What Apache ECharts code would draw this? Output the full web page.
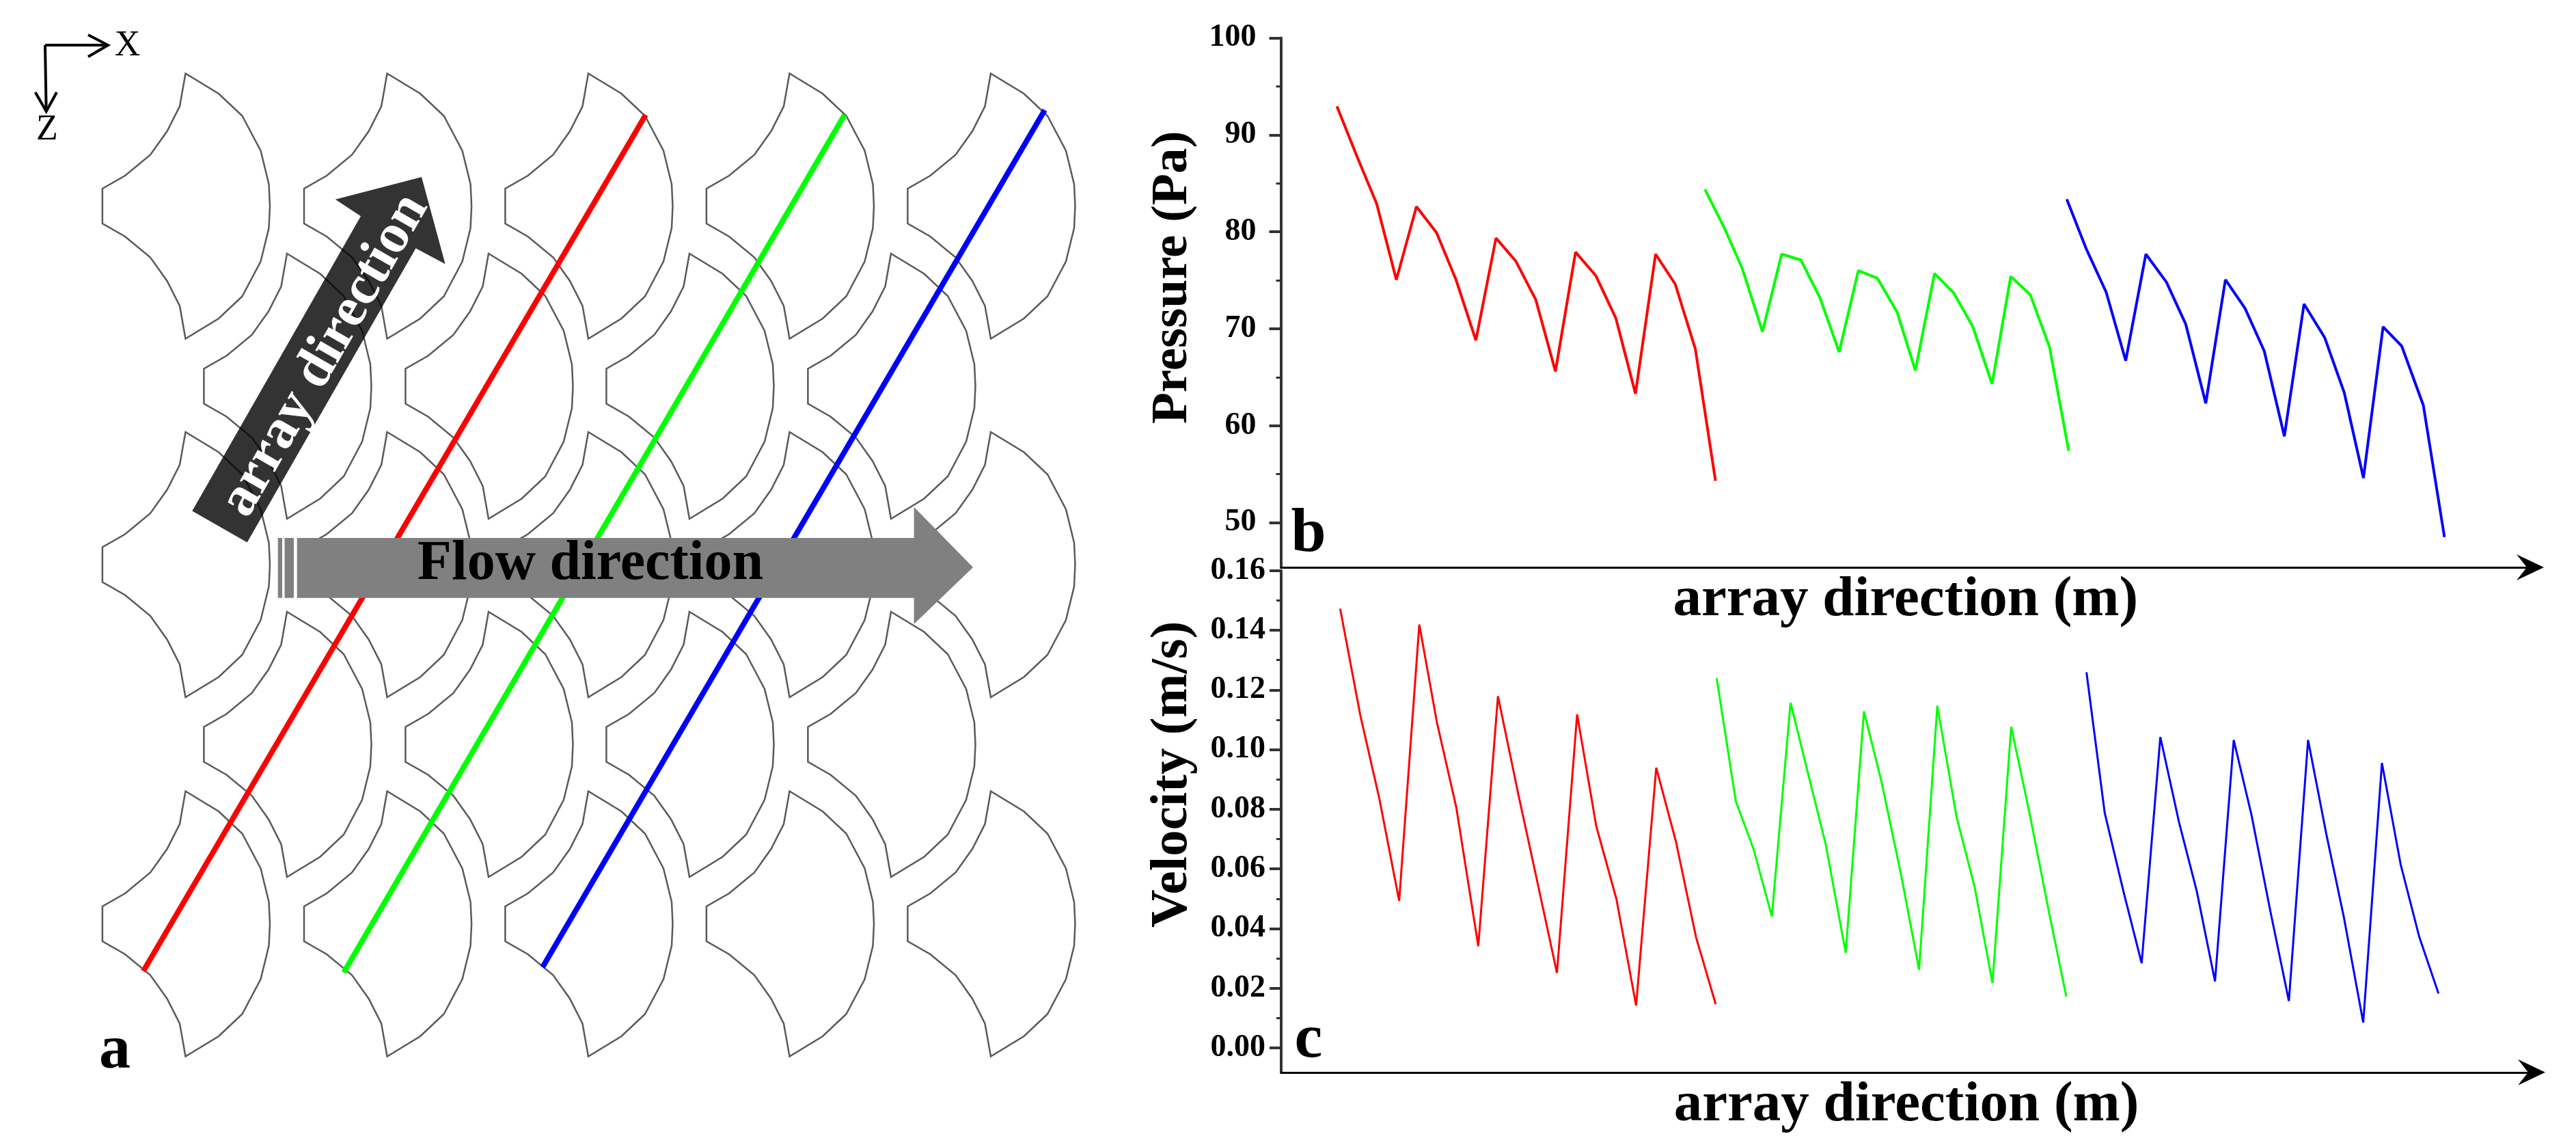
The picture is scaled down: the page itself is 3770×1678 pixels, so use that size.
<!DOCTYPE html>
<html><head><meta charset="utf-8"><style>html,body{margin:0;padding:0;background:#fff}#c{width:3770px;height:1678px}</style>
<script src="https://cdn.jsdelivr.net/npm/echarts@6/dist/echarts.min.js"></script></head>
<body><div id="c"></div>
<script>
// ---- panel b : pressure ----
const pressureRedX   = [437,478,520,561,603,645,686,727,769,810,852,893,935,977,1019,1060,1102,1143,1185,1227];
const pressureRed    = [92.96,87.9,82.9,75.06,82.6,79.9,75.0,68.8,79.35,77.0,73.0,65.6,77.9,75.5,71.1,63.3,77.7,74.6,67.9,54.3];
const pressureGreenX = [1205,1245,1283,1325,1365,1405,1445,1485,1525,1565,1606,1644,1684,1724,1764,1804,1843,1884,1924,1964];
const pressureGreen  = [84.37,80.45,76.2,69.7,77.7,77.1,73.2,67.6,76.0,75.2,71.7,65.7,75.7,73.7,70.2,64.3,75.4,73.5,68.1,57.4];
const pressureBlueX  = [1960,2001,2042,2083,2125,2168,2208,2250,2291,2332,2372,2414,2455,2498,2539,2579,2620,2659,2704,2748];
const pressureBlue   = [83.36,78.2,73.8,66.7,77.7,74.8,70.5,62.3,75.06,72.1,67.7,58.9,72.55,69.1,63.4,54.6,70.2,68.2,62.1,48.5];
// ---- panel c : velocity ----
const velocityRedX   = [443,485,525,566,608,645,685,731,772,815,855,895,937,977,1019,1060,1102,1143,1185,1226];
const velocityRed    = [.1472,.1115,.0833,.0493,.1419,.1089,.0807,.0341,.1179,.0846,.0550,.0251,.1118,.0743,.0499,.0142,.0939,.0692,.0371,.0146];
const velocityGreenX = [1228,1268,1305,1343,1382,1418,1455,1497,1535,1572,1613,1650,1688,1728,1766,1803,1842,1881,1920,1957];
const velocityGreen  = [.1239,.0826,.0666,.0441,.1157,.0923,.0685,.0319,.1128,.0890,.0576,.0262,.1147,.0775,.0538,.0217,.1076,.0781,.0461,.0172];
const velocityBlueX  = [1999,2037,2076,2114,2153,2192,2229,2267,2306,2343,2382,2421,2461,2499,2536,2576,2615,2654,2693,2733];
const velocityBlue   = [.1259,.0788,.0525,.0284,.1042,.0756,.0525,.0223,.1032,.0781,.0461,.0157,.1032,.0717,.0435,.0085,.0955,.0615,.0371,.0182];
// ---- tick labels ----
const pressureTicks      = [50,60,70,80,90,100];
const pressureMinorTicks = [55,65,75,85,95];
const velocityTicks      = [0,.02,.04,.06,.08,.10,.12,.14,.16];
const velocityMinorTicks = [.01,.03,.05,.07,.09,.11,.13,.15];
// ---- panel a : schematic geometry ----
const tileRowY  = [301.5,565,826,1089,1351.5];
const tileOddX  = [271.5,566.6,861,1155.5,1450];
const tileEvenX = [420,715,1009,1304];
const tileUpperConvex  = [[0,-194],[48.5,-164.5],[83,-132],[110,-81],[122,-32],[123.5,0]];
const tileUpperConcave = [[-8.5,-146],[-27,-109.5],[-51.5,-75],[-88.5,-44.5],[-121.6,-25.5]];
const redProbe   = [[209.7,1420.8],[945,168]];
const greenProbe = [[503,1422.7],[1236,168]];
const blueProbe  = [[794,1415],[1529,161]];
const arrayArrow = [[281.3,747.4],[528,316.3],[490.8,291.8],[617,259],[651.6,386.2],[608.5,363.3],[361.7,793.4]];
const flowArrow  = [[434.7,787],[1337.6,787],[1337.6,741.7],[1424,830],[1337.6,913],[1337.6,874.7],[434.7,874.7]];
const flowStripA = [[406.7,787],[413,787],[413,874.7],[406.7,874.7]];
const flowStripB = [[416.5,787],[430,787],[430,874.7],[416.5,874.7]];
const xzLines = [[[66,66],[158,66]],[[129,51],[158,66],[129,83]],[[66,66],[67.7,163]],[[51.7,135],[67.7,163],[83,135]]];

const SERIF = '"Liberation Serif","Times New Roman",serif';
const tileOutline = tileUpperConvex.concat(
  tileUpperConvex.slice(0,-1).reverse().map(p=>[p[0],-p[1]]),
  tileUpperConcave.map(p=>[p[0],-p[1]]),
  tileUpperConcave.slice().reverse());
const tileCentres = [];
tileRowY.forEach((y,i)=>(i%2?tileEvenX:tileOddX).forEach(x=>tileCentres.push([x,y])));
const zip=(xs,ys)=>xs.map((x,i)=>[x,ys[i]]);
const ARROW='path://M0,40 L19,0 L38,40 L19,25 Z';

function line(name,xs,ys,color,grid,yi,w){return {name,type:'line',xAxisIndex:grid,yAxisIndex:yi,data:zip(xs,ys),symbol:'none',
  lineStyle:{color,width:w},itemStyle:{color},clip:false,silent:true};}
function probe(name,pts,color){return {name,type:'line',z:2,xAxisIndex:2,yAxisIndex:4,data:pts,symbol:'none',lineStyle:{color,width:8,cap:'butt'},clip:false,silent:true};}
function poly(name,pts,fill){return {name,type:'custom',z:6,xAxisIndex:2,yAxisIndex:4,data:[pts[0]],clip:false,silent:true,
  renderItem:(p,api)=>({type:'polygon',shape:{points:pts.map(q=>api.coord(q))},style:{fill,stroke:null}})};}

const xCommon={type:'value',min:320,max:2927,axisLabel:{show:false},axisTick:{show:false},splitLine:{show:false},
  name:'array direction (m)',nameLocation:'middle',nameMoveOverlap:false,
  axisLine:{onZero:false,symbol:['none',ARROW],symbolSize:[38,40],lineStyle:{color:'#000',width:3}}};
const nameFont=s=>({fontFamily:SERIF,fontWeight:'bold',fontSize:s,color:'#000'});
function yMajor(grid,min,max,ticks,fmt,margin,name,pad,gap,size){return {type:'value',gridIndex:grid,min,max,position:'left',
  splitLine:{show:false},axisLine:{show:true,onZero:false,lineStyle:{color:'#333',width:4}},
  axisTick:{show:true,length:17,customValues:ticks,lineStyle:{color:'#333',width:4}},
  axisLabel:{show:true,customValues:ticks,formatter:fmt,margin,fontFamily:SERIF,fontWeight:'bold',fontSize:46,color:'#000'},
  name,nameLocation:'middle',nameMoveOverlap:false,nameRotate:90,nameGap:gap,nameTextStyle:Object.assign(nameFont(size),{padding:pad})};}
function yMinor(grid,min,max,ticks){return {type:'value',gridIndex:grid,min,max,position:'left',splitLine:{show:false},
  axisLine:{show:false,onZero:false},axisLabel:{show:false},axisTick:{show:true,length:7,customValues:ticks,lineStyle:{color:'#333',width:3}}};}
function txt(text,x,y,size,opt){return Object.assign({type:'text',x,y,z:50,silent:true,style:{text,font:(opt&&opt.weight||'bold')+' '+size+'px '+SERIF,
  fill:(opt&&opt.fill)||'#000',align:'center',verticalAlign:'middle'}},opt&&opt.el||{});}

const option={animation:false,backgroundColor:'#fff',
  grid:[{left:1874.5,top:55.6,width:1828.5,height:774.4},{left:1875,top:834.7,width:1830,height:734.1},{left:0,top:0,width:1640,height:1678}],
  xAxis:[
    Object.assign({},xCommon,{gridIndex:0,nameGap:7,nameTextStyle:nameFont(83)}),
    Object.assign({},xCommon,{gridIndex:1,nameGap:7,nameTextStyle:nameFont(83)}),
    {type:'value',gridIndex:2,min:0,max:1640,show:false}],
  yAxis:[
    yMajor(0,45.38,100,pressureTicks,v=>String(v),36,'Pressure (Pa)',[0,0,0,74],120,75),
    yMinor(0,45.38,100,pressureMinorTicks),
    yMajor(1,-0.0082,0.16,velocityTicks,v=>v.toFixed(2),23,'Velocity (m/s)',[0,0,0,138],120,77),
    yMinor(1,-0.0082,0.16,velocityMinorTicks),
    {type:'value',gridIndex:2,min:0,max:1678,inverse:true,show:false}],
  series:[
    {name:'tiles',type:'custom',z:1,xAxisIndex:2,yAxisIndex:4,data:tileCentres,clip:false,silent:true,
     renderItem:(p,api)=>{const c=api.coord([api.value(0),api.value(1)]);
       return {type:'polygon',shape:{points:tileOutline.map(q=>[c[0]+q[0],c[1]+q[1]])},style:{fill:'none',stroke:'#5a5a5a',lineWidth:2.5}};}},
    probe('red probe',redProbe,'#ff0000'),probe('green probe',greenProbe,'#00ff00'),probe('blue probe',blueProbe,'#0000ff'),
    poly('array arrow',arrayArrow,'rgba(0,0,0,0.8)'),
    poly('flow arrow',flowArrow,'#808080'),poly('flow strip a',flowStripA,'#808080'),poly('flow strip b',flowStripB,'#808080'),
    {name:'xz axes',type:'custom',z:6,xAxisIndex:2,yAxisIndex:4,data:xzLines.map(l=>l[0]),clip:false,silent:true,
     renderItem:(p,api)=>({type:'polyline',shape:{points:xzLines[p.dataIndex].map(q=>api.coord(q))},style:{fill:'none',stroke:'#000',lineWidth:4}})},
    line('Pressure red',pressureRedX,pressureRed,'#ff0000',0,0,4),
    line('Pressure green',pressureGreenX,pressureGreen,'#00ff00',0,0,4),
    line('Pressure blue',pressureBlueX,pressureBlue,'#0000ff',0,0,4),
    line('Velocity red',velocityRedX,velocityRed,'#ff0000',1,2,3),
    line('Velocity green',velocityGreenX,velocityGreen,'#00ff00',1,2,3),
    line('Velocity blue',velocityBlueX,velocityBlue,'#0000ff',1,2,3)
  ],
  graphic:[
    txt('Flow direction',864,826,82),
    txt('array direction',476,520,82,{fill:'#fff',el:{rotation:Math.PI/3}}),
    txt('a',168,1538,92),txt('b',1915,782,92),txt('c',1915,1522,92),
    txt('X',186.5,67,52,{weight:'normal'}),txt('Z',69,190,52,{weight:'normal'})
  ]};
const chart=echarts.init(document.getElementById('c'),null,{renderer:'canvas'});
chart.setOption(option);
</script></body></html>
